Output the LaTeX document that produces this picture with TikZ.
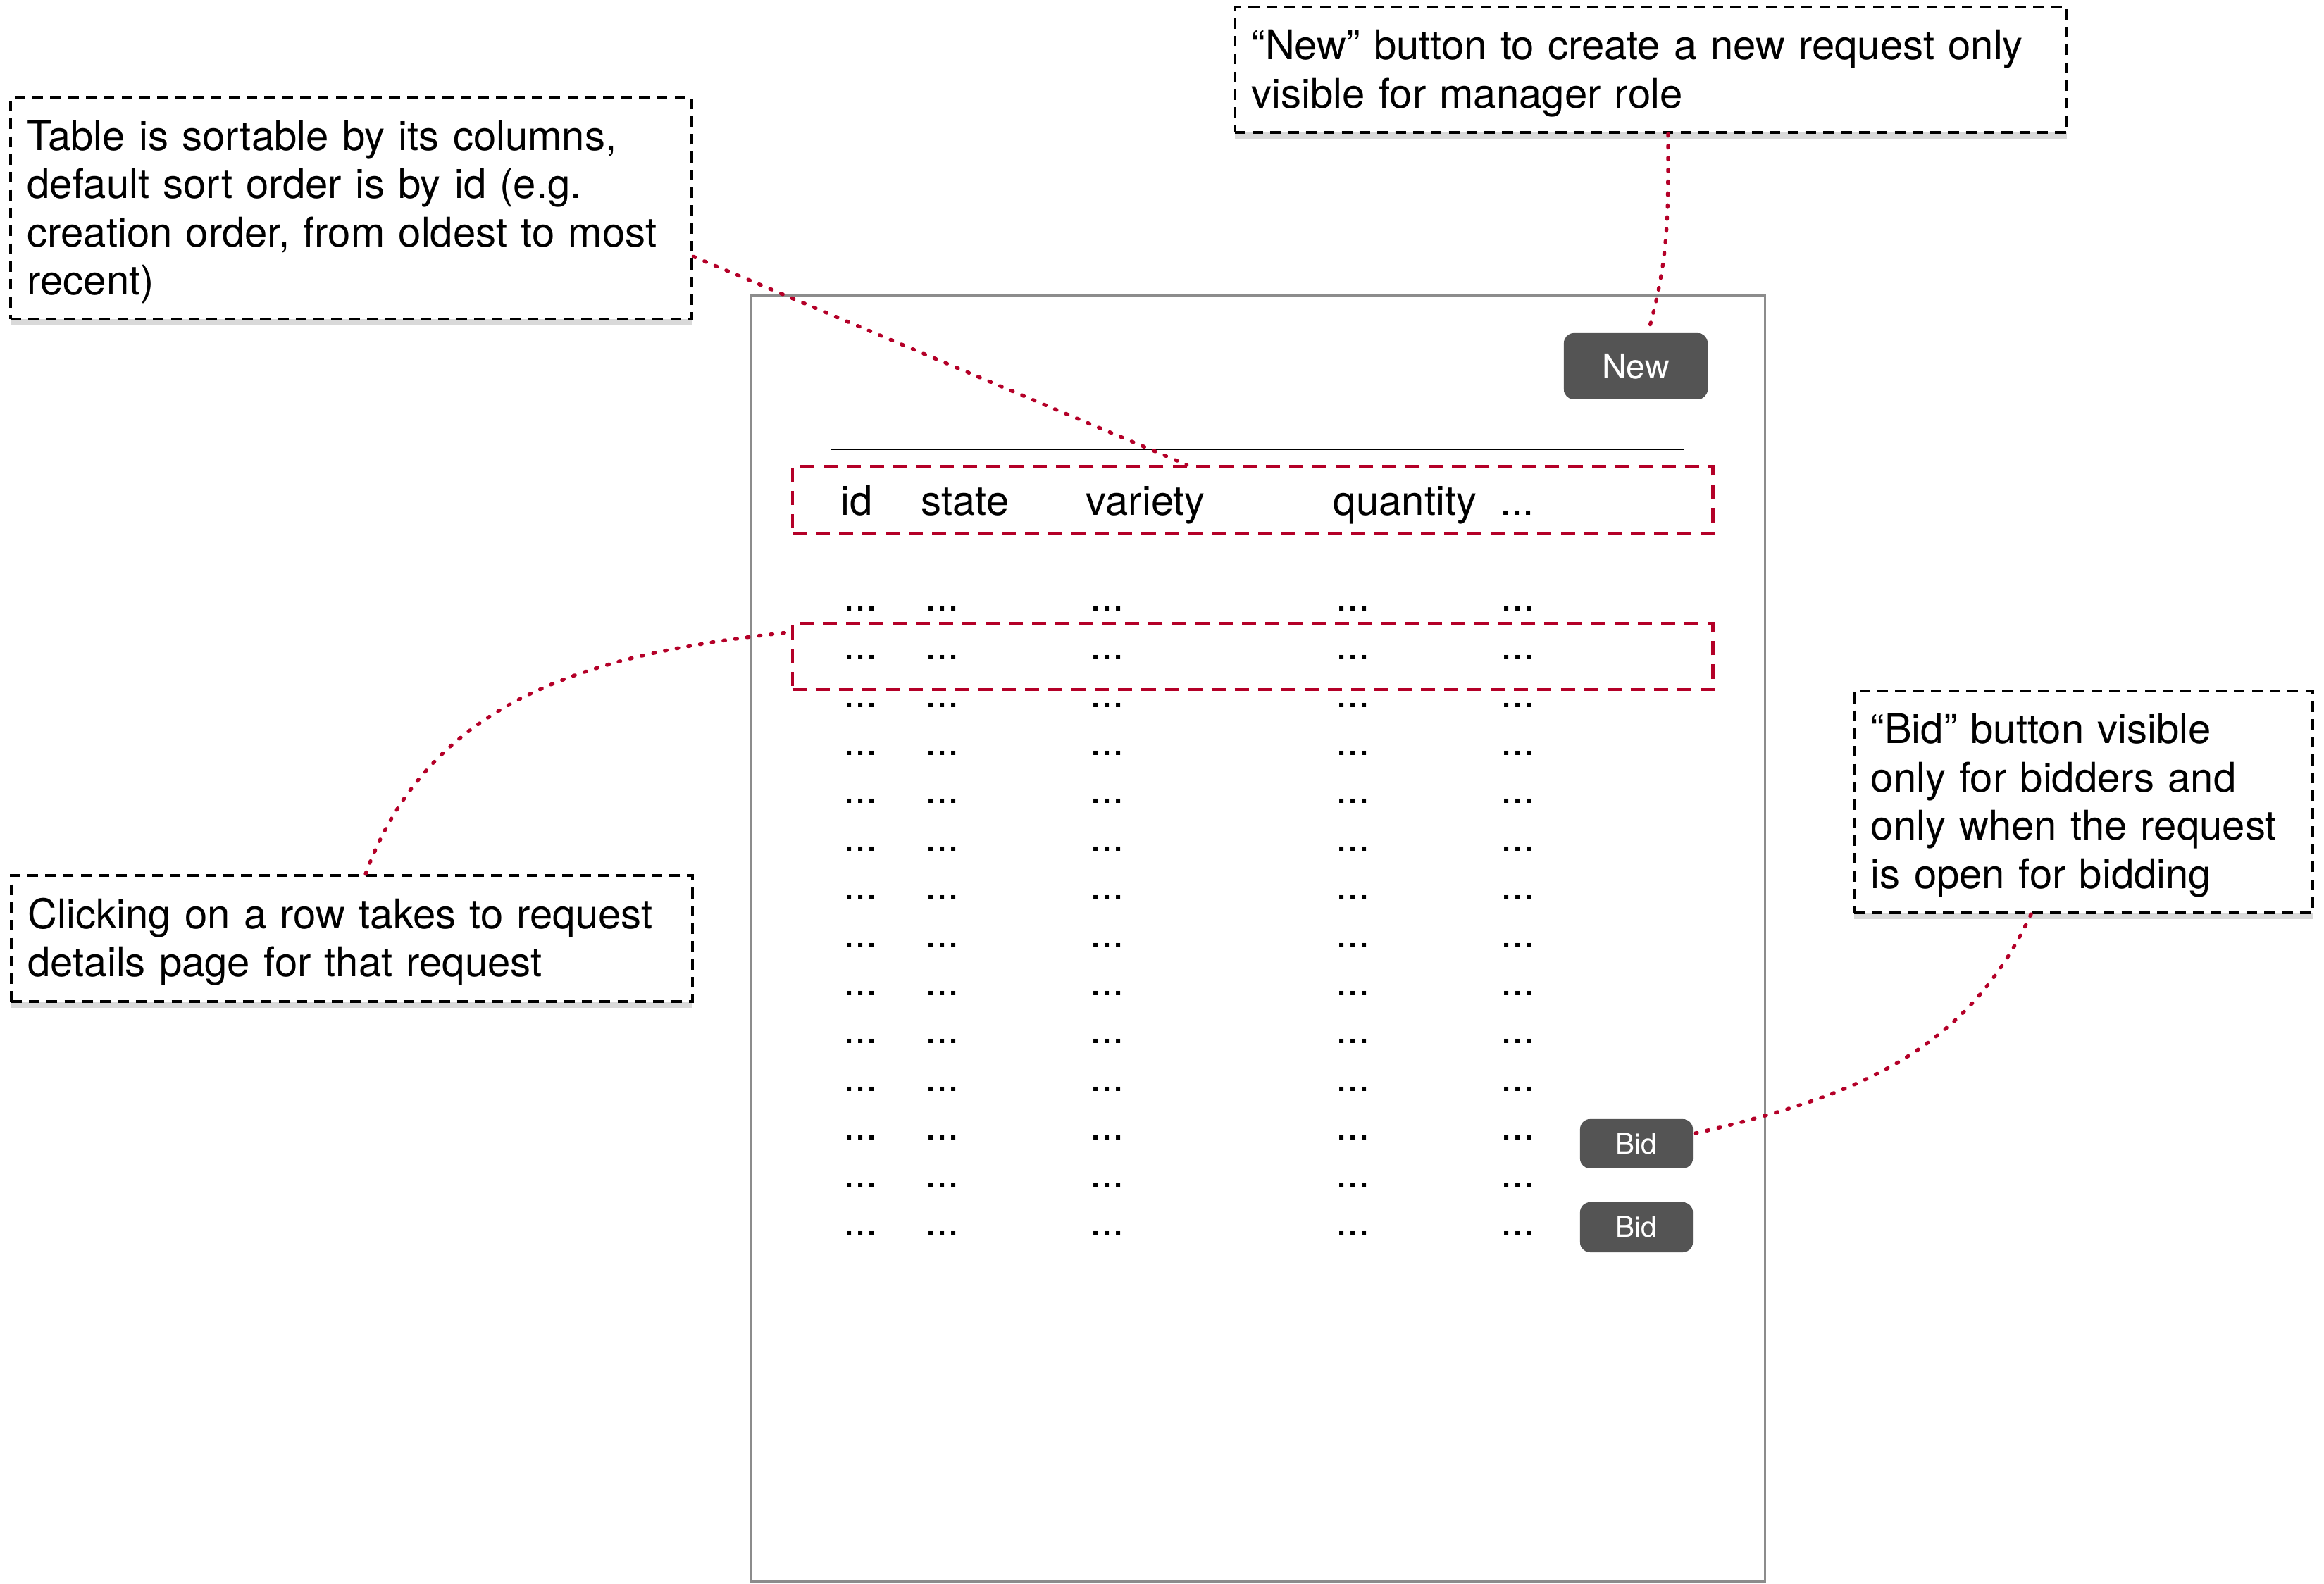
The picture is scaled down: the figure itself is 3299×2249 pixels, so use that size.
\documentclass[tikz,border=0pt]{standalone}
\usepackage{fontspec}
\setmainfont{TeX Gyre Heros}
\usetikzlibrary{shadows}
\definecolor{notered}{RGB}{180,0,40}
\definecolor{btngray}{RGB}{84,84,84}
\definecolor{framegray}{RGB}{140,140,140}
\newcommand{\notefont}{\fontsize{16.5}{19.45}\selectfont}

\begin{document}
\begin{tikzpicture}[x=0.01cm,y=0.01cm]
  \tikzstyle{note}=[draw,line width=1.1pt,dash pattern=on 4.3pt off 2.9pt,fill=white,
    align=left,inner xsep=0.24cm,font=\notefont,execute at begin node={\rule{0pt}{15pt}},
    drop shadow={shadow xshift=0pt,shadow yshift=-2.5pt,opacity=0.3}]
  \tikzstyle{markbox}=[draw=notered,line width=1.2pt,dash pattern=on 5.7pt off 3.7pt,minimum width=13.06cm]
  \tikzstyle{button}=[fill=btngray,text=white,rounded corners=4pt,inner sep=0pt]
  \tikzstyle{pointer}=[notered,line width=1.5pt,line cap=round,dash pattern=on 0.8pt off 4pt]
  \tikzstyle{cell}=[anchor=base west,inner sep=0pt,font=\notefont]

  \useasboundingbox (0,0) rectangle (3299,2249);

  % the page
  \node (screen) [draw=framegray,line width=1.1pt,minimum width=14.39cm,minimum height=18.25cm] at (1785.5,916.5) {};
  \node (newbtn) [button,minimum width=2.04cm,minimum height=0.94cm,font=\fontsize{13.7}{16}\selectfont] at (2322,1729) {New};
  \draw [line width=0.65pt] (1179,1611) -- (2391,1611);

  % header row
  \node (hdr) [markbox,minimum height=0.95cm] at (1778,1539.5) {};
  \node (hid)   [cell] at (1193,1517) {id};
  \node (hstate)[cell] at (1307,1517) {state};
  \node (hvar)  [cell] at (1541,1517) {variety};
  \node (hqty)  [cell] at (1892,1517) {quantity};
  \node (hmore) [cell] at (2129,1517) {...};

  % rows
  \foreach \r in {0,...,13}
    \foreach \c in {1197,1313,1547,1896,2130}
      \node (dot-\r-\c) [cell] at (\c,1381-68.2*\r) {...};
  \node (selrow) [markbox,minimum height=0.94cm] at (1778,1317) {};

  \node (bid1) [button,minimum width=1.6cm,minimum height=0.7cm,font=\fontsize{11.5}{14}\selectfont] at (2323,625) {Bid};
  \node (bid2) [button,minimum width=1.6cm,minimum height=0.71cm,font=\fontsize{11.5}{14}\selectfont] at (2323,506.5) {Bid};

  % notes
  \node (tblnote) [note,text width=9.19cm,minimum height=3.14cm] at (498.5,1953)
    {Table is sortable by its columns,\\default sort order is by id (e.g.\\creation order, from oldest to most\\recent)};
  \node (newnote) [note,text width=11.33cm,minimum height=1.78cm] at (2343.5,2150)
    {“New” button to create a new request only\\visible for manager role};
  \node (bidnote) [note,text width=6.03cm,minimum height=3.15cm] at (2957.5,1110.5)
    {“Bid” button visible\\only for bidders and\\only when the request\\is open for bidding};
  \node (clicknote) [note,text width=9.19cm,minimum height=1.79cm] at (499.5,916.5)
    {Clicking on a row takes to request\\details page for that request};

  \draw [pointer] (tblnote.-8) -- (hdr.152);
  \draw [pointer] (newnote.-75) to[out=-90,in=74] (newbtn.70);
  \draw [pointer] (clicknote.78) to[out=70,in=186] (selrow.177);
  \draw [pointer] (bidnote.-115) to[out=-115,in=13] (bid1.10);
\end{tikzpicture}
\end{document}
